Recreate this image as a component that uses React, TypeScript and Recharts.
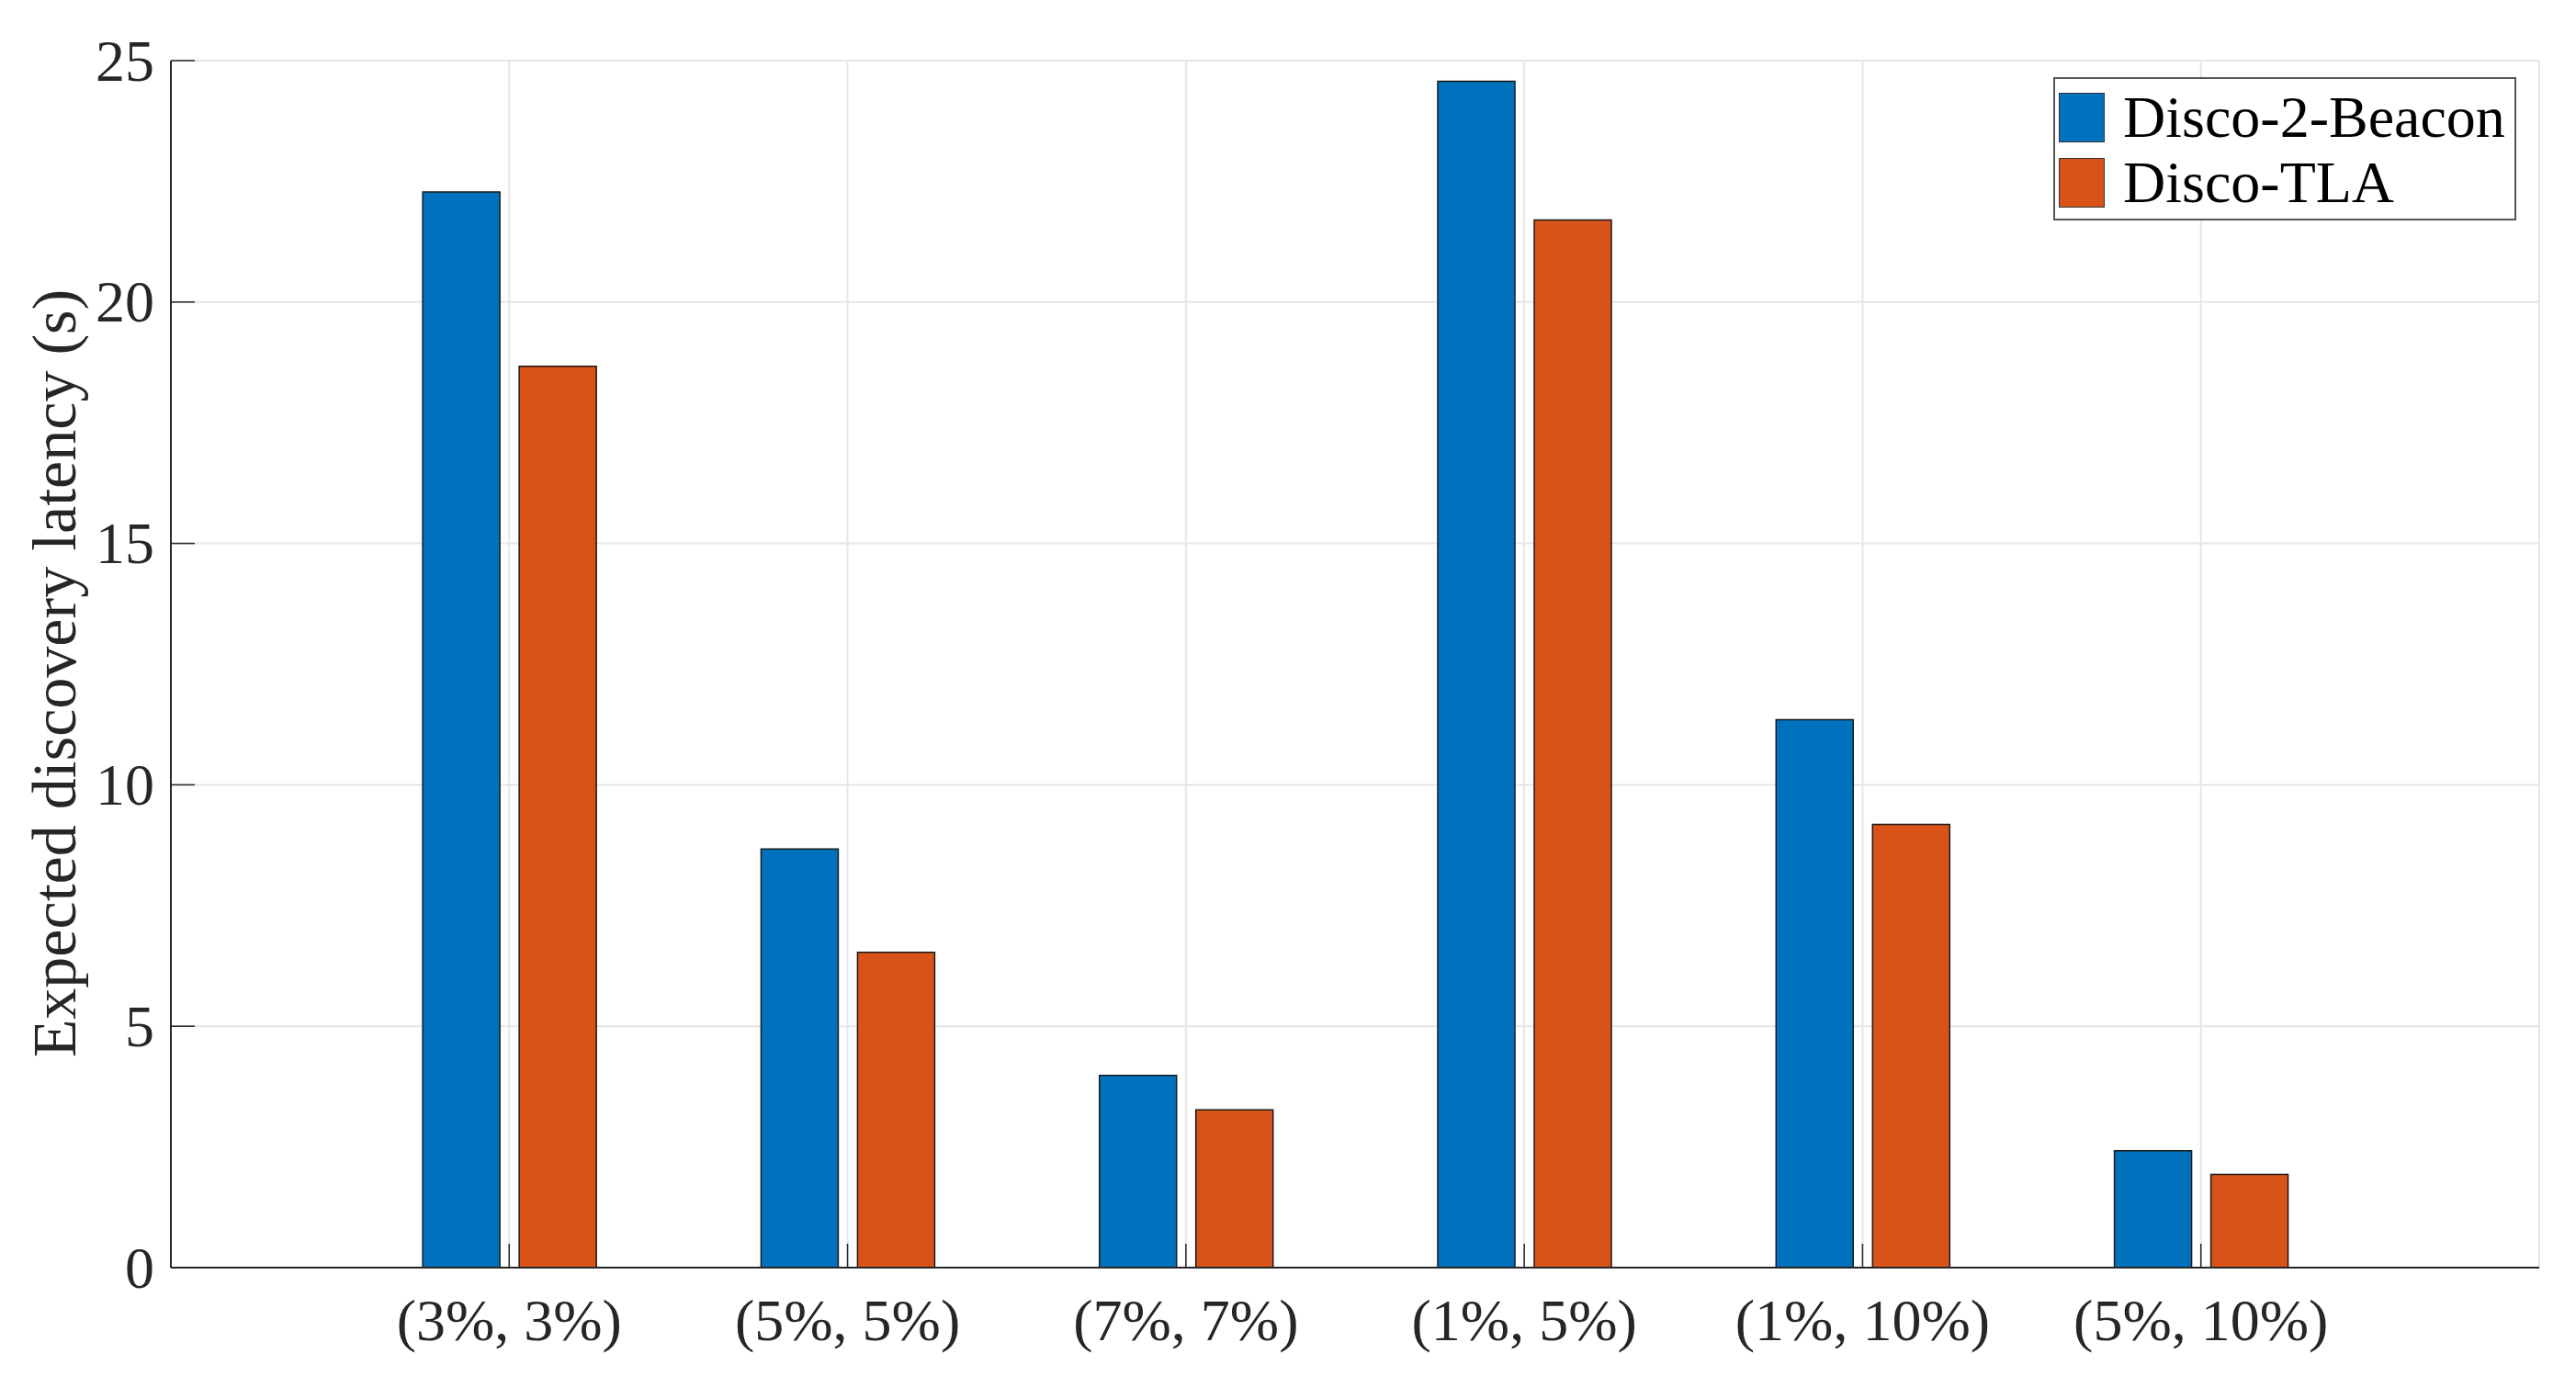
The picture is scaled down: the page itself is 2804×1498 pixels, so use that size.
import React from 'react';
import { BarChart, Bar, XAxis, YAxis, CartesianGrid, Legend, Label } from 'recharts';

const categories = ['(3%, 3%)', '(5%, 5%)', '(7%, 7%)', '(1%, 5%)', '(1%, 10%)', '(5%, 10%)'];
const disco2Beacon = [22.28, 8.67, 3.98, 24.57, 11.35, 2.42];
const discoTLA = [18.67, 6.53, 3.27, 21.7, 9.18, 1.93];
const yTicks = [0, 5, 10, 15, 20, 25];
const seriesNames = ['Disco-2-Beacon', 'Disco-TLA'];
const seriesColors = ['#0072BD', '#D95319'];
const yLabel = 'Expected discovery latency (s)';

const data = categories.map((c, i) => ({ category: c, d2b: disco2Beacon[i], tla: discoTLA[i] }));

const W = 2788;
const H = 1482;
const margin = { top: 58, right: 32, left: 58, bottom: 10 };
const yAxisW = 120;
const xAxisH = 100;
const plotW = W - margin.left - margin.right - yAxisW;
const xPad = plotW / 14;
const TICK = 26;
const AX = '#262626';
const FONT = "'Liberation Serif', 'DejaVu Serif', 'Times New Roman', Times, serif";

const txt = { fontFamily: FONT } as React.CSSProperties;

const BottomTick = (props: any) => {
  const { x, y, payload } = props;
  return (
    <g>
      <line x1={x} x2={x} y1={y} y2={y - TICK} stroke={AX} strokeWidth={1.5} />
      <text x={x} y={y + 57} textAnchor="middle" dominantBaseline="central" style={txt} fontSize={64} fill={AX}>
        {payload.value}
      </text>
    </g>
  );
};

const TopTick = (props: any) => {
  const { x, y } = props;
  return <line x1={x} x2={x} y1={y} y2={y + TICK} stroke={AX} strokeWidth={1.5} />;
};

const LeftTick = (props: any) => {
  const { x, y, payload } = props;
  return (
    <g>
      <line x1={x} x2={x + TICK} y1={y} y2={y} stroke={AX} strokeWidth={1.5} />
      <text x={x - 18} y={y} textAnchor="end" dominantBaseline="central" style={txt} fontSize={64} fill={AX}>
        {payload.value}
      </text>
    </g>
  );
};

const RightTick = (props: any) => {
  const { x, y } = props;
  return <line x1={x} x2={x - TICK} y1={y} y2={y} stroke={AX} strokeWidth={1.5} />;
};

const LegendBox = () => (
  <div
    style={{
      boxSizing: 'border-box',
      width: '100%',
      height: '100%',
      border: '2px solid #555',
      background: '#fff',
      padding: '6px 0 0 4px',
      fontFamily: FONT,
    }}
  >
    {seriesNames.map((n, i) => (
      <div key={n} style={{ display: 'flex', alignItems: 'center', height: 71 }}>
        <div
          style={{
            width: 50,
            height: 54,
            background: seriesColors[i],
            border: '1.5px solid #333',
            boxSizing: 'border-box',
            marginRight: 20,
          }}
        />
        <span style={{ fontSize: 64, color: '#000', lineHeight: 1, fontFamily: FONT }}>{n}</span>
      </div>
    ))}
  </div>
);

const YLabelContent = (props: any) => {
  const vb = props.viewBox;
  const cx = vb.x - 7;
  const cy = vb.y + vb.height / 2 + 10;
  return (
    <text
      x={cx}
      y={cy}
      transform={`rotate(-90, ${cx}, ${cy})`}
      textAnchor="middle"
      dominantBaseline="central"
      style={txt}
      fontSize={68}
      fill={AX}
    >
      {yLabel}
    </text>
  );
};

export default function App() {
  return (
    <div style={{ width: W, height: H, position: 'relative', background: '#fff', fontFamily: FONT }}>
      <BarChart width={W} height={H} data={data} margin={margin} barGap={21} style={{ fontFamily: FONT }}>
        <CartesianGrid stroke="#e6e6e6" strokeWidth={2} />
        <XAxis
          dataKey="category"
          type="category"
          height={xAxisH}
          padding={{ left: xPad, right: xPad }}
          axisLine={{ stroke: AX, strokeWidth: 2 }}
          tickLine={false}
          tickSize={0}
          tickMargin={0}
          tick={<BottomTick />}
          interval={0}
        />
        <XAxis
          xAxisId="top"
          orientation="top"
          dataKey="category"
          type="category"
          height={0}
          padding={{ left: xPad, right: xPad }}
          axisLine={{ stroke: AX, strokeWidth: 2 }}
          tickLine={false}
          tickSize={0}
          tickMargin={0}
          tick={<TopTick />}
          interval={0}
        />
        <YAxis
          width={yAxisW}
          domain={[0, 25]}
          ticks={yTicks}
          type="number"
          allowDataOverflow
          axisLine={{ stroke: AX, strokeWidth: 2 }}
          tickLine={false}
          tickSize={0}
          tickMargin={0}
          tick={<LeftTick />}
          interval={0}
        >
          <Label content={<YLabelContent />} />
        </YAxis>
        <YAxis
          yAxisId="right"
          orientation="right"
          width={0}
          domain={[0, 25]}
          ticks={yTicks}
          type="number"
          axisLine={{ stroke: AX, strokeWidth: 2 }}
          tickLine={false}
          tickSize={0}
          tickMargin={0}
          tick={<RightTick />}
          interval={0}
        />
        <Legend
          layout="vertical"
          align="center"
          verticalAlign="middle"
          wrapperStyle={{ position: 'absolute', left: 2227, top: 76, width: 504, height: 156 }}
          content={<LegendBox />}
        />
        <Bar dataKey="d2b" name={seriesNames[0]} fill={seriesColors[0]} stroke="#1a1a1a" strokeWidth={1.5} barSize={84} isAnimationActive={false} />
        <Bar dataKey="tla" name={seriesNames[1]} fill={seriesColors[1]} stroke="#1a1a1a" strokeWidth={1.5} barSize={84} isAnimationActive={false} />
      </BarChart>
    </div>
  );
}
